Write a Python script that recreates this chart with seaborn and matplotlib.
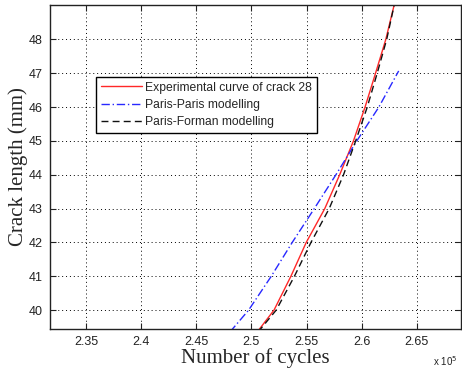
import numpy as np
import pandas as pd
import matplotlib
matplotlib.use("Agg")
import matplotlib.pyplot as plt
import seaborn as sns

# Data (cycles in units of 1e5, crack length in mm)
exp_len = [39.35, 40.0, 41.0, 42.0, 43.0, 44.0, 45.0, 46.0, 47.0, 48.0, 49.1]
exp_cyc = [2.5052, 2.5205, 2.5358, 2.5497, 2.5665, 2.5800, 2.5925, 2.6030, 2.6125, 2.6218, 2.6300]

pp_len = [39.35, 40.0, 41.0, 42.0, 43.0, 44.0, 45.0, 46.0, 47.07]
pp_cyc = [2.4805, 2.4975, 2.5180, 2.5370, 2.5570, 2.5766, 2.5955, 2.6155, 2.6335]

pf_len = [39.35, 40.0, 41.0, 42.0, 43.0, 44.0, 45.0, 46.0, 47.0, 48.0, 49.1]
pf_cyc = [2.5060, 2.5225, 2.5390, 2.5540, 2.5705, 2.5835, 2.5945, 2.6050, 2.6140, 2.6226, 2.6300]

labels = ["Experimental curve of crack 28", "Paris-Paris modelling", "Paris-Forman modelling"]
x_ticks = [2.35, 2.4, 2.45, 2.5, 2.55, 2.6, 2.65]
y_ticks = [40, 41, 42, 43, 44, 45, 46, 47, 48]

sns.set_style("white")
plt.rcParams['font.family'] = ['Liberation Sans', 'DejaVu Sans']

fig = plt.figure(figsize=(4.62, 3.71), dpi=100)
ax = fig.add_axes([50/462, 1-329/371, 411/462, 324/371])

df = pd.concat([
    pd.DataFrame({"cycles": np.array(exp_cyc)*1e5, "length": exp_len, "series": labels[0]}),
    pd.DataFrame({"cycles": np.array(pp_cyc)*1e5, "length": pp_len, "series": labels[1]}),
    pd.DataFrame({"cycles": np.array(pf_cyc)*1e5, "length": pf_len, "series": labels[2]}),
])

sns.lineplot(data=df, x="cycles", y="length", hue="series", style="series",
             palette={labels[0]: "#ff2828", labels[1]: "#2828ff", labels[2]: "#111111"},
             dashes={labels[0]: "", labels[1]: (6, 2, 1, 2), labels[2]: (5, 3)},
             linewidth=1.0, estimator=None, sort=False, ax=ax)

ax.set_xlim(2.3174e5, 2.69e5)
ax.set_ylim(39.44, 49.02)
ax.set_xticks([t*1e5 for t in x_ticks])
ax.set_xticklabels([f"{t:g}" for t in x_ticks])
ax.set_yticks(y_ticks)
ax.set_yticklabels([str(t) for t in y_ticks])
ax.tick_params(direction="in", length=4, width=0.8, labelsize=9, pad=5,
               top=True, right=True, bottom=True, left=True, colors="#222222")
for lab in ax.get_xticklabels() + ax.get_yticklabels():
    lab.set_color("#222222")
ax.grid(True, linestyle=(0, (1, 3)), color="black", linewidth=0.7)
for s in ax.spines.values():
    s.set_color("#222222")
    s.set_linewidth(1.0)

ax.set_xlabel("Number of cycles", family="Liberation Serif", fontsize=15, labelpad=0)
ax.set_ylabel("Crack length (mm)", family="Liberation Serif", fontsize=15, labelpad=1)

fig.text(433/462, 1-366/371, r"x 10$^5$", fontsize=7, color="#222222", ha="left", va="baseline")

leg = ax.legend(loc="upper left", bbox_to_anchor=((95.7-50)/411, (329-76.7)/324),
                borderaxespad=0, fontsize=8.7, handlelength=3.4, frameon=True,
                fancybox=False, edgecolor="black", framealpha=1, borderpad=0.4,
                labelspacing=0.45, handletextpad=0.3, title=None)
leg.get_frame().set_linewidth(1.0)

fig.savefig("out.png", dpi=100)
